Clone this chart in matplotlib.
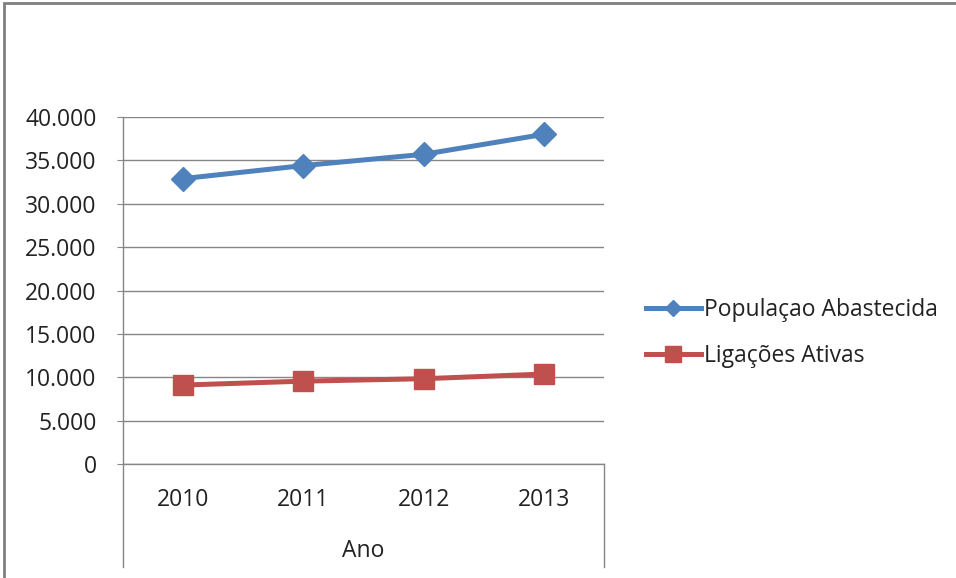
import matplotlib.pyplot as plt
from matplotlib.lines import Line2D
from matplotlib.patches import Rectangle

anos = ['2010', '2011', '2012', '2013']
populacao = [32900, 34400, 35700, 38000]
ligacoes = [9100, 9550, 9830, 10370]
yticks = [0, 5000, 10000, 15000, 20000, 25000, 30000, 35000, 40000]
ytick_labels = ['0', '5.000', '10.000', '15.000', '20.000', '25.000', '30.000', '35.000', '40.000']

azul = '#4F81BD'
vermelho = '#C0504D'
cinza = '#868686'
fs = 16.5

plt.rcParams['font.family'] = ['Open Sans', 'DejaVu Sans']

W, H = 956, 578
fig = plt.figure(figsize=(W / 100, H / 100), dpi=100)
ax = fig.add_axes([123 / W, 1 - 464 / H, 481 / W, 347 / H])

x = range(len(anos))
ax.plot(x, populacao, color=azul, lw=3.6, marker='D', ms=12, mec=azul, zorder=3)
ax.plot(x, ligacoes, color=vermelho, lw=3.6, marker='s', ms=14.5, mec=vermelho, zorder=3)

ax.set_xlim(-0.5, len(anos) - 0.5)
ax.set_ylim(0, 40000)
ax.set_yticks(yticks)
ax.set_yticklabels(ytick_labels)
ax.set_xticks(list(x))
ax.set_xticklabels(anos)

# grade horizontal estilo Excel
ax.yaxis.grid(True, color=cinza, lw=1)
ax.set_axisbelow(True)
for s in ['top', 'right', 'bottom']:
    ax.spines[s].set_visible(False)
ax.spines['left'].set_color(cinza)
ax.spines['left'].set_linewidth(1)
ax.tick_params(axis='y', length=4, color=cinza, pad=15, labelsize=fs, labelcolor='#222222')
ax.tick_params(axis='x', length=0, pad=17, labelsize=fs, labelcolor='#222222')

# caixa da categoria "Ano"
yb = -(567 - 464) / 347
for xx in [0, 1]:
    ax.add_line(Line2D([xx, xx], [0, yb], transform=ax.transAxes, color=cinza, lw=1, clip_on=False))
ax.add_line(Line2D([0, 1], [0, 0], transform=ax.transAxes, color=cinza, lw=1, clip_on=False))
ax.text(0.5, -(551 - 464) / 347, 'Ano', transform=ax.transAxes, ha='center', va='center',
        fontsize=fs, color='#222222')

# legenda
handles = [Line2D([], [], color=azul, lw=3.6, marker='D', ms=8.5, mec=azul),
           Line2D([], [], color=vermelho, lw=3.6, marker='s', ms=11, mec=vermelho)]
fig.legend(handles, ['Populaçao Abastecida', 'Ligações Ativas'], loc='center left',
           bbox_to_anchor=(625 / W, 1 - 333 / H), frameon=False, fontsize=fs,
           handlelength=2.4, handletextpad=0.15, labelspacing=1.0, labelcolor='#222222')

# borda externa
fig.add_artist(Rectangle((4 / W, -0.1), 1.2, 1.1 - 3 / H, transform=fig.transFigure,
                         fill=False, edgecolor='#808080', lw=2))

fig.savefig('out.png', dpi=100)
